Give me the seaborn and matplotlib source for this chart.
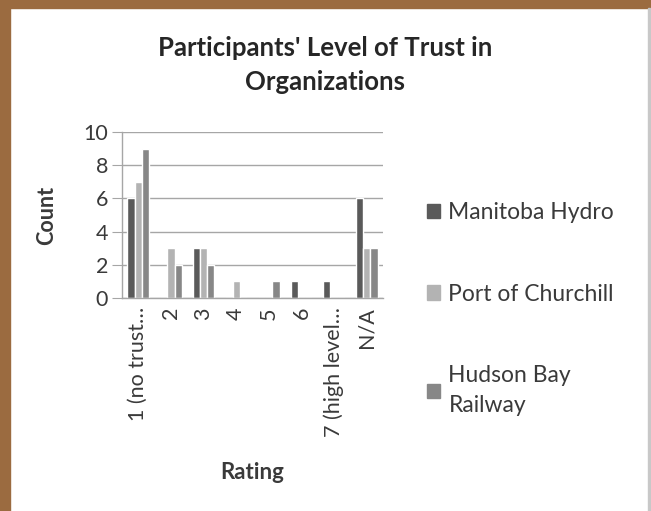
import matplotlib
matplotlib.use("Agg")
import matplotlib.pyplot as plt
from matplotlib.patches import Rectangle
import pandas as pd
import seaborn as sns

# 데이터
ratings = ["1 (no trust…", "2", "3", "4", "5", "6", "7 (high level…", "N/A"]
manitoba_hydro = [6, 0, 3, 0, 0, 1, 1, 6]
port_of_churchill = [7, 3, 3, 1, 0, 0, 0, 3]
hudson_bay_railway = [9, 2, 2, 0, 1, 0, 0, 3]
series_names = ["Manitoba Hydro", "Port of Churchill", "Hudson Bay Railway"]
legend_labels = ["Manitoba Hydro", "Port of Churchill", "Hudson Bay\nRailway"]
colors = ["#5a5a5a", "#b3b3b3", "#878787"]

rows = []
for name, vals in zip(series_names, [manitoba_hydro, port_of_churchill, hudson_bay_railway]):
    for r, v in zip(ratings, vals):
        rows.append({"Rating": r, "Count": v, "Org": name})
df = pd.DataFrame(rows)

sns.set_style("white")
plt.rcParams["font.family"] = ["Lato", "DejaVu Sans"]
text_col = "#3a3a3a"

fig = plt.figure(figsize=(6.51, 5.11), dpi=100)
fig.patch.set_facecolor("white")
# 갈색 테두리
brown = "#9b6b40"
fig.patches.append(Rectangle((0, 0), 10 / 651, 1, transform=fig.transFigure, color=brown, zorder=0))
fig.patches.append(Rectangle((0, 1 - 8 / 511), 1, 8 / 511, transform=fig.transFigure, color=brown, zorder=0))
fig.patches.append(Rectangle((648 / 651, 0), 1.5 / 651, 1 - 8 / 511, transform=fig.transFigure,
                             color="#c8c8c8", zorder=0))

ax = fig.add_axes([122 / 651, 1 - 298 / 511, (383 - 122) / 651, (298 - 132) / 511])
sns.barplot(data=df, x="Rating", y="Count", hue="Org", order=ratings, hue_order=series_names,
            palette=colors, width=0.667, saturation=1, ax=ax, legend=False)

ax.set_ylim(0, 10)
ax.set_yticks(range(0, 11, 2))
ax.yaxis.grid(True, color="#a6a6a6", linewidth=1)
ax.set_axisbelow(True)
for s in ["top", "right"]:
    ax.spines[s].set_visible(False)
for s in ["left", "bottom"]:
    ax.spines[s].set_color("#a6a6a6")
    ax.spines[s].set_linewidth(1)
ax.tick_params(axis="y", left=True, length=7, color="#a6a6a6", labelsize=15.5, labelcolor=text_col, pad=3)
ax.tick_params(axis="x", bottom=False, labelsize=15.5, labelcolor=text_col, pad=3)
for lab in ax.get_xticklabels():
    lab.set_rotation(90)

ax.set_xlabel("Rating", fontsize=16, fontweight="bold", color=text_col)
ax.set_ylabel("Count", fontsize=15.5, fontweight="bold", color=text_col)
ax.xaxis.set_label_coords(0.5, -0.985)
ax.yaxis.set_label_coords(-0.25, 0.5)

fig.text(325 / 651, 1 - 65 / 511, "Participants' Level of Trust in\nOrganizations", ha="center", va="center",
         fontsize=18.5, fontweight="bold", color="#262626", linespacing=1.55)

handles = [Rectangle((0, 0), 1, 1, color=c) for c in colors]
leg = fig.legend(handles, legend_labels, loc="center left", bbox_to_anchor=(406 / 651, 1 - 309 / 511),
                 frameon=False, fontsize=16.5, labelcolor=text_col, handlelength=0.6, handleheight=0.6,
                 handletextpad=0.35, labelspacing=2.65)
for t in leg.get_texts():
    t.set_linespacing(1.5)

fig.savefig("out.png", dpi=100)
